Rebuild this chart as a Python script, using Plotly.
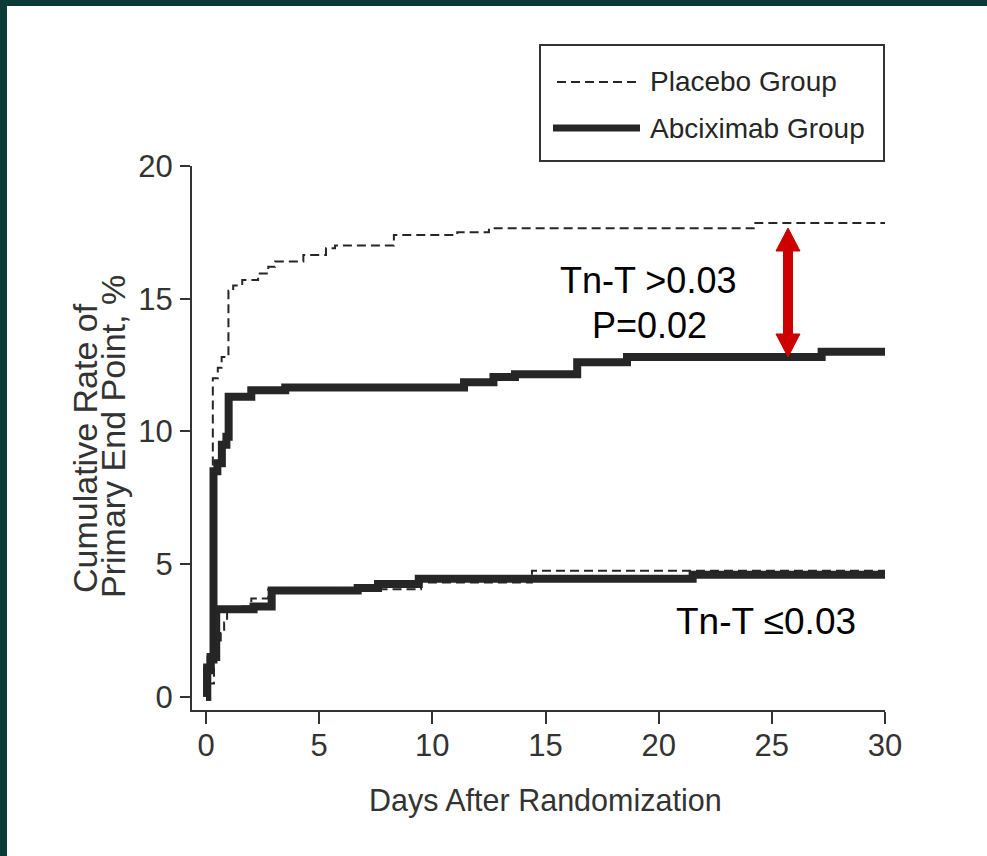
import plotly.graph_objects as go

# ---------------- data ----------------
days_pl_hi = [0, 0.1, 0.3, 0.52, 0.69, 0.99, 1.2, 1.6, 2.3, 2.75, 3.05, 4.3, 5.3, 5.7, 8.3, 11.1, 12.5, 24.2, 30]
rate_pl_hi = [0, 1.0, 12.0, 12.4, 12.8, 15.3, 15.5, 15.7, 15.95, 16.2, 16.4, 16.65, 16.9, 17.0, 17.4, 17.5, 17.65, 17.85, 17.85]

days_ab_hi = [0, 0.05, 0.2, 0.33, 0.5, 0.7, 0.9, 1.0, 2.0, 3.5, 11.4, 12.7, 13.65, 16.4, 18.6, 27.2, 30]
rate_ab_hi = [0, 1.0, 1.4, 8.5, 8.8, 9.5, 9.8, 11.3, 11.55, 11.65, 11.85, 12.05, 12.15, 12.6, 12.8, 13.0, 13.0]

days_pl_lo = [0, 0.1, 0.35, 0.53, 0.65, 0.8, 0.93, 1.6, 2.0, 2.75, 9.5, 14.4, 30]
rate_pl_lo = [0, 0.5, 1.5, 2.0, 2.4, 2.8, 3.25, 3.4, 3.7, 4.05, 4.3, 4.75, 4.75]

days_ab_lo = [0, 0.05, 0.2, 0.45, 2.1, 2.9, 6.7, 7.6, 9.4, 21.5, 30]
rate_ab_lo = [0, 1.1, 1.5, 3.3, 3.4, 4.0, 4.1, 4.25, 4.45, 4.6, 4.6]

x_ticks = [0, 5, 10, 15, 20, 25, 30]
y_ticks = [0, 5, 10, 15, 20]

series_names = ["Placebo Group", "Abciximab Group"]

# ---------------- layout geometry (page pixels) ----------------
W, H = 987, 856
L, R, T, B = 192, 885, 166, 710   # plot area edges in px
PW, PH = R - L, B - T

def px(x):
    return (x - L) / PW

def py(y):
    return (B - y) / PH

INK = "#262626"
AX = "#333333"
FRAME = "#0c3a36"
REG = "Liberation Sans, Arial, Helvetica, sans-serif"

fig = go.Figure()

for xs, ys in [(days_ab_hi, rate_ab_hi), (days_ab_lo, rate_ab_lo)]:
    fig.add_trace(go.Scatter(x=xs, y=ys, mode="lines", line_shape="hv",
                             line=dict(color=INK, width=8), showlegend=False,
                             name=series_names[1], hoverinfo="skip"))
for xs, ys in [(days_pl_hi, rate_pl_hi), (days_pl_lo, rate_pl_lo)]:
    fig.add_trace(go.Scatter(x=xs, y=ys, mode="lines", line_shape="hv",
                             line=dict(color=INK, width=2, dash="9px,5px"), showlegend=False,
                             name=series_names[0], hoverinfo="skip"))

shapes = []
# dark slide frame (left and top strips)
shapes.append(dict(type="rect", xref="paper", yref="paper", x0=px(0), x1=px(7), y0=py(H), y1=py(0),
                   fillcolor=FRAME, line=dict(width=0), layer="below"))
shapes.append(dict(type="rect", xref="paper", yref="paper", x0=px(0), x1=px(W), y0=py(6), y1=py(0),
                   fillcolor=FRAME, line=dict(width=0), layer="below"))
# legend box
shapes.append(dict(type="rect", xref="paper", yref="paper", x0=px(540), x1=px(884), y0=py(161), y1=py(45),
                   line=dict(color=AX, width=2), fillcolor="rgba(0,0,0,0)"))
shapes.append(dict(type="line", xref="paper", yref="paper", x0=px(557), x1=px(640), y0=py(82), y1=py(82),
                   line=dict(color=INK, width=2, dash="9px,5px")))
shapes.append(dict(type="line", xref="paper", yref="paper", x0=px(553), x1=px(640), y0=py(128), y1=py(128),
                   line=dict(color=INK, width=7)))

# red double arrow
cx, top, bot = 788, 228, 357
hw, sw, hl = 12, 4.5, 23
pts = [(cx, top), (cx + hw, top + hl), (cx + sw, top + hl), (cx + sw, bot - hl), (cx + hw, bot - hl),
       (cx, bot), (cx - hw, bot - hl), (cx - sw, bot - hl), (cx - sw, top + hl), (cx - hw, top + hl)]
path = "M " + " L ".join(f"{px(a):.5f},{py(b):.5f}" for a, b in pts) + " Z"
shapes.append(dict(type="path", xref="paper", yref="paper", path=path,
                   fillcolor="#cc0000", line=dict(color="#cc0000", width=1)))

annotations = [
    dict(text="Placebo Group", x=px(648), y=py(81), xanchor="left", yanchor="middle",
         font=dict(family=REG, size=28, color=INK)),
    dict(text="Abciximab Group", x=px(648), y=py(128), xanchor="left", yanchor="middle",
         font=dict(family=REG, size=28, color=INK)),
    dict(text="Days After Randomization", x=px(545), y=py(800), xanchor="center", yanchor="middle",
         font=dict(family=REG, size=30.5, color=AX)),
    dict(text="Cumulative Rate of", x=px(85), y=py(448), xanchor="center", yanchor="middle",
         textangle=-90, font=dict(family=REG, size=34, color=AX)),
    dict(text="Primary End Point, %", x=px(113), y=py(437), xanchor="center", yanchor="middle",
         textangle=-90, font=dict(family=REG, size=34, color=AX)),
    dict(text="Tn-T >0.03", x=px(648), y=py(280), xanchor="center", yanchor="middle",
         font=dict(family=REG, size=36, color="#000000")),
    dict(text="P=0.02", x=px(649), y=py(325), xanchor="center", yanchor="middle",
         font=dict(family=REG, size=36, color="#000000")),
    dict(text="Tn-T ≤0.03", x=px(766), y=py(621), xanchor="center", yanchor="middle",
         font=dict(family=REG, size=37, color="#000000")),
]
for a in annotations:
    a.update(xref="paper", yref="paper", showarrow=False)

fig.update_layout(
    width=W, height=H,
    margin=dict(l=L, r=W - R, t=T, b=H - B, pad=0),
    paper_bgcolor="white", plot_bgcolor="white",
    shapes=shapes, annotations=annotations, showlegend=False,
)
fig.update_xaxes(range=[-0.62, 30], tickvals=x_ticks, ticktext=[str(v) for v in x_ticks],
                 showgrid=False, zeroline=False, showline=True, linecolor=AX, linewidth=2,
                 ticks="outside", ticklen=12, tickwidth=2, tickcolor=AX, ticklabelstandoff=-5,
                 tickfont=dict(family=REG, size=31, color=AX))
fig.update_yaxes(range=[-0.5, 20], tickvals=y_ticks, ticktext=[str(v) for v in y_ticks],
                 showgrid=False, zeroline=False, showline=True, linecolor=AX, linewidth=2,
                 ticks="outside", ticklen=10, tickwidth=2, tickcolor=AX, ticklabelstandoff=1,
                 tickfont=dict(family=REG, size=31, color=AX))

fig.write_html(
    "out.html",
    config={"displayModeBar": False, "staticPlot": True},
    post_script=("document.body.style.margin='0';"
                 "document.body.style.background='white';"
                 "document.documentElement.style.overflow='hidden';"
                 "document.body.style.overflow='hidden';"),
)
